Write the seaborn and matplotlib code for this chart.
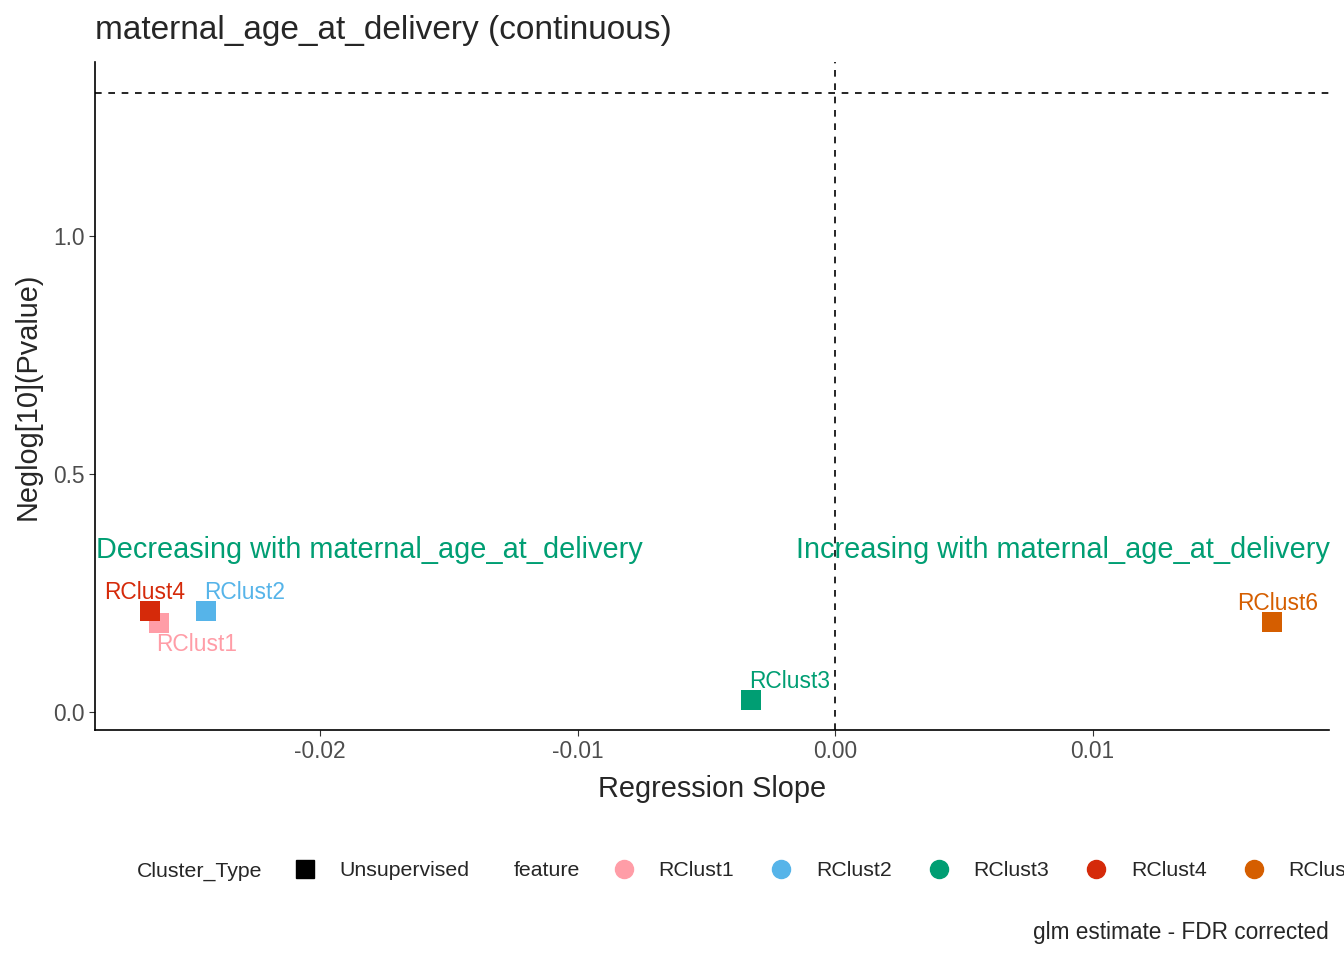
import matplotlib
matplotlib.use("Agg")
import matplotlib.pyplot as plt
from matplotlib.lines import Line2D
import seaborn as sns
import pandas as pd

features = ["RClust1", "RClust2", "RClust3", "RClust4", "RClust6"]
slopes = [-0.02625, -0.02443, -0.00326, -0.0266, 0.01697]
neglog_p = [0.187, 0.212, 0.025, 0.212, 0.189]
colors = ["#FF9DA7", "#56B4E9", "#009E73", "#D52A0A", "#D55E00"]
cluster_type = ["Unsupervised"] * 5

df = pd.DataFrame({"feature": features, "slope": slopes, "p": neglog_p, "Cluster_Type": cluster_type})
pal = dict(zip(features, colors))

sns.set_style("white")
plt.rcParams["font.family"] = ["Liberation Sans", "DejaVu Sans"]

fig = plt.figure(figsize=(13.44, 9.6), dpi=100)
ax = fig.add_axes([0.0707, 0.2396, 0.9181, 0.6958])
sns.scatterplot(data=df, x="slope", y="p", hue="feature", palette=pal, marker="s",
                s=200, edgecolor="none", legend=False, ax=ax, zorder=3)

ax.axhline(1.301, color="black", ls=(0, (4, 4)), lw=1.2)
ax.axvline(0, color="black", ls=(0, (4, 4)), lw=1.2)

# point labels
offsets = {"RClust1": (0.00144, -0.046), "RClust2": (0.0015, 0.038), "RClust3": (0.00148, 0.038),
           "RClust4": (-0.0002, 0.038), "RClust6": (0.00023, 0.038)}
for f, x, y, c in zip(features, slopes, neglog_p, colors):
    dx, dy = offsets[f]
    ax.text(x + dx, y + dy, f, color=c, fontsize=16.4, ha="center", va="center")

ax.text(-0.0287, 0.34, "Decreasing with maternal_age_at_delivery", color="#009E73",
        fontsize=20.8, ha="left", va="center")
ax.text(0.0192, 0.34, "Increasing with maternal_age_at_delivery", color="#009E73",
        fontsize=20.8, ha="right", va="center")

ax.set_xlim(-0.02874, 0.01918)
ax.set_ylim(-0.038, 1.366)
ax.set_xticks([-0.02, -0.01, 0.0, 0.01])
ax.set_xticklabels(["-0.02", "-0.01", "0.00", "0.01"])
ax.set_yticks([0.0, 0.5, 1.0])
ax.set_yticklabels(["0.0", "0.5", "1.0"])
ax.tick_params(axis="both", labelsize=16.4, labelcolor="#4D4D4D", length=4, color="#333333",
               bottom=True, left=True)
for s in ["top", "right"]:
    ax.spines[s].set_visible(False)
for s in ["left", "bottom"]:
    ax.spines[s].set_color("black")
    ax.spines[s].set_linewidth(1.2)
ax.set_xlabel("Regression Slope", fontsize=20.8, labelpad=8)
ax.set_ylabel("Neglog[10](Pvalue)", fontsize=20.8, labelpad=8)
fig.text(0.0707, 1 - 30 / 960, "maternal_age_at_delivery (continuous)", fontsize=24,
         ha="left", va="center")

# legends
ly = 1 - 871 / 960
fig.text(137 / 1344, ly, "Cluster_Type", fontsize=15.3, va="center")
h1 = [Line2D([], [], marker="s", color="black", ls="none", markersize=13)]
fig.legend(h1, ["Unsupervised"], loc="center left", bbox_to_anchor=(278 / 1344, ly),
           frameon=False, fontsize=15.3, handletextpad=0.9, handlelength=1.5, borderpad=0)
fig.text(514 / 1344, ly, "feature", fontsize=15.3, va="center")
h2 = [Line2D([], [], marker="o", color=c, ls="none", markersize=13) for c in colors]
fig.legend(h2, features, loc="center left", bbox_to_anchor=(597 / 1344, ly), ncol=5,
           frameon=False, fontsize=15.3, handletextpad=0.9, handlelength=1.5,
           columnspacing=1.45, borderpad=0)

fig.text(1329 / 1344, 1 - 933 / 960, "glm estimate - FDR corrected", fontsize=16.3,
         ha="right", va="center")

fig.savefig("out.png", dpi=100)
